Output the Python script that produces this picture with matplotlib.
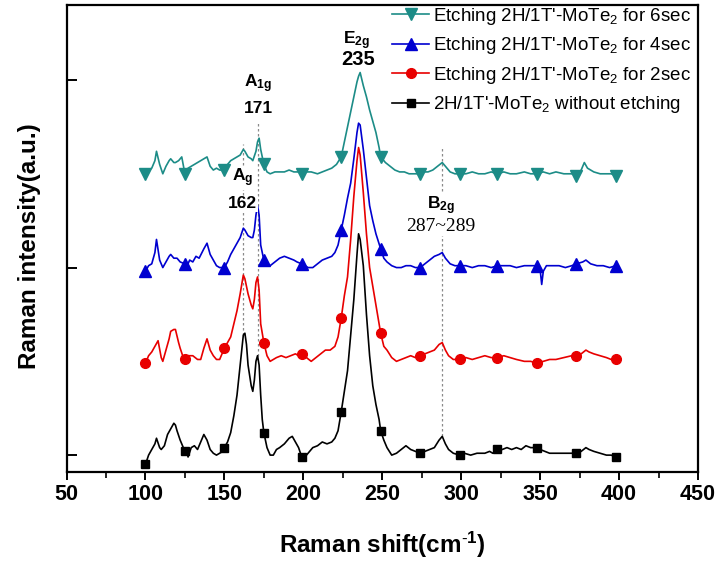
import matplotlib
matplotlib.use("Agg")
import matplotlib.pyplot as plt
import numpy as np
from matplotlib.lines import Line2D

plt.rcParams['font.family'] = ['Liberation Sans', 'DejaVu Sans']
plt.rcParams['mathtext.fontset'] = 'custom'
plt.rcParams['mathtext.rm'] = 'Liberation Sans'
plt.rcParams['mathtext.it'] = 'Liberation Sans:italic'
plt.rcParams['mathtext.bf'] = 'Liberation Sans:bold'
plt.rcParams['mathtext.default'] = 'regular'

# Raman spectra (stacked, arbitrary units)
x_0s = [100, 102, 104, 106, 107, 109, 110, 112, 114, 116, 118, 119, 120, 122, 124, 125, 126, 127, 129, 131,
        133, 135, 137, 139, 141, 143, 145, 147, 149, 150, 152, 154, 156, 158, 160, 162, 163, 164, 165, 167,
        168, 169, 170, 171, 172, 173, 174, 175, 177, 179, 181, 183, 185, 188, 191, 193, 195, 197, 199, 201,
        203, 206, 209, 212, 215, 218, 220, 222, 224, 226, 228, 230, 232, 234, 235, 236, 238, 240, 242, 244,
        246, 248, 249, 251, 253, 256, 259, 262, 265, 268, 271, 274, 277, 280, 283, 286, 288, 290, 292, 295,
        299, 302, 306, 310, 315, 318, 320, 323, 326, 329, 332, 335, 338, 341, 344, 348, 350, 353, 356, 360,
        365, 370, 373, 376, 379, 381, 384, 388, 392, 395, 398]
y_0s = [-5, 0, 3, 6, 9, 4, 3, 5, 11, 14, 17, 16, 13, 8, 4, 2, 3, -1, 4, 5,
        3, 7, 11, 8, 3, 1, 0, 1, 2, 4, 7, 12, 21, 32, 48, 64, 65, 59, 48, 37,
        34, 40, 50, 53, 48, 32, 19, 12, 4, 0, 0, 3, 4, 6, 9, 10, 7, 4, -1, -1,
        1, 4, 5, 7, 6, 7, 9, 13, 23, 34, 45, 64, 83, 107, 118, 115, 101, 75, 53, 37,
        27, 19, 13, 8, 4, 0, 1, 3, 5, 3, 2, 1, 2, 3, 4, 8, 10, 6, 3, 1,
        0, 1, 0, 1, 1, 2, 1, 3, 3, 4, 3, 4, 3, 5, 4, 4, 3, 2, 1, 1,
        1, 1, 1, 2, 4, 3, 2, 1, 0, 0, -1]

x_2s = [100, 102, 104, 106, 108, 110, 111, 113, 115, 116, 118, 119, 121, 122, 124, 125, 127, 130, 133, 135,
        137, 139, 141, 143, 145, 147, 150, 152, 154, 156, 158, 160, 162, 163, 165, 167, 168, 169, 170, 171,
        172, 173, 175, 177, 179, 181, 183, 186, 189, 192, 195, 197, 199, 202, 205, 208, 211, 214, 217, 220,
        222, 224, 226, 228, 230, 232, 234, 235, 236, 238, 240, 242, 244, 246, 248, 249, 251, 253, 256, 259,
        262, 265, 268, 271, 274, 277, 280, 283, 286, 288, 290, 292, 295, 299, 303, 307, 311, 315, 319, 323,
        327, 331, 335, 340, 344, 348, 352, 356, 360, 365, 370, 373, 376, 379, 381, 384, 388, 392, 395, 398]
y_2s = [49, 53, 55, 58, 61, 52, 50, 56, 62, 66, 67, 67, 60, 57, 52, 51, 53, 53, 51, 51,
        57, 62, 56, 53, 51, 51, 57, 60, 63, 70, 77, 86, 96, 94, 86, 80, 78, 83, 92, 95,
        88, 70, 60, 53, 50, 51, 52, 53, 52, 53, 54, 53, 54, 52, 50, 52, 54, 56, 56, 58,
        63, 73, 85, 95, 115, 138, 157, 164, 160, 140, 118, 100, 90, 80, 70, 65, 58, 56, 52, 50,
        51, 52, 53, 52, 53, 54, 55, 56, 59, 60, 56, 53, 51, 51, 52, 51, 52, 53, 52, 52,
        53, 52, 51, 50, 50, 49, 50, 51, 51, 52, 53, 53, 54, 56, 55, 54, 53, 52, 51, 51]

x_4s = [100, 102, 104, 106, 107, 109, 111, 113, 115, 116, 118, 120, 122, 125, 126, 128, 130, 132, 134, 137,
        139, 141, 143, 145, 147, 150, 152, 154, 156, 158, 160, 162, 163, 165, 167, 168, 169, 170, 171, 172,
        173, 175, 177, 179, 182, 185, 188, 191, 194, 196, 199, 203, 206, 209, 212, 215, 218, 220, 222, 224,
        226, 228, 230, 232, 234, 235, 236, 238, 240, 242, 244, 246, 249, 251, 253, 256, 259, 262, 265, 268,
        271, 274, 277, 280, 283, 286, 288, 290, 293, 296, 299, 303, 307, 311, 315, 319, 323, 327, 331, 335,
        340, 344, 348, 350, 351, 352, 354, 358, 362, 366, 370, 373, 377, 379, 382, 386, 390, 394, 398]
y_4s = [98, 101, 102, 108, 115, 104, 100, 103, 106, 107, 105, 105, 103, 102, 100, 104, 103, 106, 105, 110,
        113, 107, 104, 101, 100, 100, 103, 107, 110, 113, 116, 121, 120, 117, 116, 116, 120, 128, 133, 128,
        112, 104, 101, 101, 103, 105, 106, 105, 104, 103, 102, 100, 100, 102, 104, 105, 106, 108, 112, 120,
        128, 137, 145, 158, 172, 177, 176, 163, 148, 133, 125, 118, 110, 105, 103, 101, 100, 100, 101, 101,
        100, 100, 102, 104, 106, 107, 108, 105, 102, 101, 101, 101, 100, 101, 101, 100, 101, 101, 101, 100,
        101, 101, 101, 99, 91, 98, 101, 101, 101, 100, 101, 102, 103, 104, 102, 101, 101, 100, 101]

x_6s = [100, 102, 104, 106, 107, 109, 111, 113, 115, 116, 118, 119, 121, 123, 125, 127, 129, 131, 133, 135,
        137, 139, 141, 143, 145, 147, 150, 152, 154, 156, 158, 160, 162, 163, 165, 167, 168, 170, 171, 172,
        173, 175, 177, 179, 182, 185, 188, 191, 194, 197, 199, 202, 205, 209, 212, 215, 218, 221, 224, 226,
        228, 230, 232, 234, 235, 236, 238, 240, 242, 244, 246, 248, 249, 252, 255, 258, 261, 264, 267, 270,
        274, 276, 279, 282, 285, 288, 290, 293, 296, 299, 303, 307, 311, 315, 319, 323, 327, 331, 335, 340,
        344, 348, 352, 356, 360, 365, 370, 373, 376, 378, 380, 384, 388, 392, 395, 398]
y_6s = [150, 152, 153, 157, 162, 155, 150, 154, 157, 158, 156, 156, 157, 159, 150, 153, 154, 155, 156, 157,
        158, 159, 154, 152, 153, 152, 152, 155, 157, 158, 159, 160, 163, 162, 159, 158, 157, 162, 167, 169,
        163, 155, 151, 150, 151, 151, 151, 152, 151, 151, 150, 151, 151, 150, 151, 152, 153, 155, 159, 167,
        175, 183, 191, 199, 202, 204, 197, 191, 184, 178, 172, 164, 159, 156, 154, 152, 151, 151, 150, 150,
        150, 151, 151, 152, 154, 156, 154, 151, 150, 150, 150, 151, 150, 150, 151, 150, 151, 150, 150, 151,
        150, 150, 151, 150, 151, 150, 150, 149, 152, 156, 153, 151, 150, 150, 150, 149]

marker_x = [100, 125, 150, 175, 199, 224, 249, 274, 299, 323, 348, 373, 398]

series = [
    ("Etching 2H/1T'-MoTe$_2$ for 6sec", x_6s, y_6s, '#1c8c87', 'v', 8),
    ("Etching 2H/1T'-MoTe$_2$ for 4sec", x_4s, y_4s, '#0000d0', '^', 8),
    ("Etching 2H/1T'-MoTe$_2$ for 2sec", x_2s, y_2s, '#e80000', 'o', 7),
    ("2H/1T'-MoTe$_2$ without etching", x_0s, y_0s, 'black', 's', 6),
]

fig = plt.figure(figsize=(7.19, 5.71), dpi=100)
ax = fig.add_axes([66.5 / 719, 1 - 472 / 571, (698 - 66.5) / 719, (472 - 5) / 571])

handles = []
for lab, xs, ys, c, m, ms in series:
    xs = np.array(xs)
    ys = np.array(ys)
    idx = np.where(np.isin(xs, marker_x))[0]
    ax.plot(xs, ys, color=c, lw=1.2, zorder=3)
    ax.plot(xs[idx], ys[idx], ls='none', marker=m, ms=ms, color=c, zorder=4)
    handles.append(Line2D([], [], color=c, lw=1.2, marker=m, ms=ms))

# peak guide lines
ax.vlines([162], 64, 166, colors='#8a8a8a', linestyles=(0, (2, 2)), lw=0.9, zorder=1)
ax.vlines([171], 53, 177, colors='#8a8a8a', linestyles=(0, (2, 2)), lw=0.9, zorder=1)
ax.vlines([288], 10, 164, colors='#8a8a8a', linestyles=(0, (2, 2)), lw=0.9, zorder=1)

wb = dict(facecolor='white', edgecolor='none', pad=0.5)
ax.text(171.4, 198, r'$\mathbf{A_{1g}}$', ha='center', va='center', fontsize=12.5)
ax.text(171.4, 185, '171', ha='center', va='center', fontsize=12.5, fontweight='bold')
ax.text(161.5, 148, r'$\mathbf{A_{g}}$', ha='center', va='center', fontsize=12.5, bbox=wb, zorder=5)
ax.text(161.5, 134, '162', ha='center', va='center', fontsize=12.5, fontweight='bold', bbox=wb, zorder=5)
ax.text(234, 221, r'$\mathbf{E_{2g}}$', ha='center', va='center', fontsize=12.5)
ax.text(235, 211, '235', ha='center', va='center', fontsize=14.5, fontweight='bold')
ax.text(287, 133, r'$\mathbf{B_{2g}}$', ha='center', va='center', fontsize=12.5, bbox=wb, zorder=5)
ax.text(287, 122, '287~289', ha='center', va='center', fontsize=14, family='Liberation Serif',
        bbox=wb, zorder=5)

ax.set_xlim(50, 450)
ax.set_ylim(-9, 240)
ax.set_xticks(np.arange(50, 451, 50))
ax.set_xticks(np.arange(75, 450, 50), minor=True)
ax.set_yticks([0, 100, 200])
ax.set_yticklabels([])
ax.tick_params(axis='x', which='major', direction='out', length=6, width=1.4, pad=3,
               labelsize=15.5)
ax.tick_params(axis='x', which='minor', direction='out', length=4, width=1.2)
ax.tick_params(axis='y', which='major', direction='in', length=7, width=1.4)
for lbl in ax.get_xticklabels():
    lbl.set_fontweight('bold')
for sp in ax.spines.values():
    sp.set_linewidth(1.6)

fig.text(30 / 719, 1 - 246 / 571, 'Raman intensity(a.u.)', rotation=90, ha='center', va='center',
         fontsize=17.5, fontweight='bold')
fig.text(382 / 719, 1 - 545 / 571, r'Raman shift(cm$^{\mathbf{\text{-}1}}$)', ha='center', va='center',
         fontsize=17.5, fontweight='bold')

ax.legend(handles, [s[0] for s in series], loc='upper left', frameon=False, fontsize=13.5,
          bbox_to_anchor=(390 / 719, 1 - 4 / 571), bbox_transform=fig.transFigure,
          borderpad=0.1, borderaxespad=0, handlelength=2.0, handletextpad=0.2,
          labelspacing=0.45, numpoints=1)

fig.savefig('out.png', dpi=100)
